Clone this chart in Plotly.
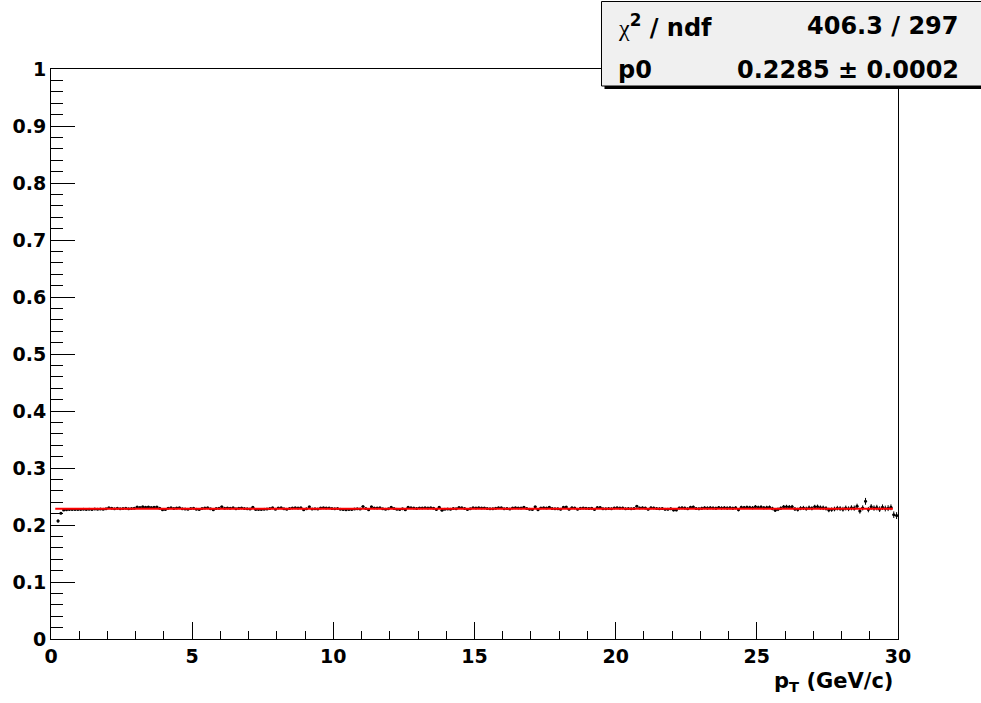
import plotly.graph_objects as go

# ---------------- data ----------------
bin_width = 0.1
bin_centers = [round(0.05 + 0.1 * i, 2) for i in range(300)]

ratio_values = [
    None, None, 0.2072, 0.2205, 0.2262, 0.2268, 0.2271, 0.2273, 0.2270, 0.2274,
    0.2272, 0.2275, 0.2273, 0.2277, 0.2274, 0.2279, 0.2276, 0.2281, 0.2278, 0.2283,
    0.2301, 0.2296, 0.2286, 0.2292, 0.2284, 0.2289, 0.2293, 0.2286, 0.2290, 0.2296,
    0.2314, 0.2309, 0.2318, 0.2311, 0.2316, 0.2308, 0.2313, 0.2317, 0.2294, 0.2267,
    0.2270, 0.2295, 0.2302, 0.2291, 0.2298, 0.2304, 0.2287, 0.2279, 0.2275, 0.2289,
    0.2293, 0.2276, 0.2272, 0.2288, 0.2297, 0.2302, 0.2285, 0.2268, 0.2289, 0.2294,
    0.2321, 0.2292, 0.2298, 0.2294, 0.2301, 0.2287, 0.2296, 0.2299, 0.2290, 0.2283,
    0.2279, 0.2310, 0.2274, 0.2271, 0.2273, 0.2276, 0.2280, 0.2289, 0.2302, 0.2276,
    0.2299, 0.2303, 0.2283, 0.2275, 0.2291, 0.2300, 0.2302, 0.2298, 0.2301, 0.2268,
    0.2287, 0.2318, 0.2281, 0.2285, 0.2279, 0.2298, 0.2301, 0.2297, 0.2300, 0.2288,
    0.2284, 0.2290, 0.2277, 0.2272, 0.2268, 0.2274, 0.2271, 0.2280, 0.2283, 0.2279,
    0.2324, 0.2288, 0.2268, 0.2321, 0.2300, 0.2297, 0.2301, 0.2284, 0.2278, 0.2287,
    0.2310, 0.2289, 0.2275, 0.2273, 0.2285, 0.2266, 0.2310, 0.2302, 0.2297, 0.2291,
    0.2300, 0.2299, 0.2303, 0.2298, 0.2301, 0.2296, 0.2274, 0.2312, 0.2258, 0.2277,
    0.2281, 0.2276, 0.2288, 0.2284, 0.2305, 0.2302, 0.2289, 0.2273, 0.2285, 0.2301,
    0.2298, 0.2302, 0.2297, 0.2300, 0.2289, 0.2283, 0.2287, 0.2292, 0.2303, 0.2301,
    0.2285, 0.2290, 0.2281, 0.2299, 0.2302, 0.2300, 0.2297, 0.2312, 0.2288, 0.2277,
    0.2274, 0.2318, 0.2268, 0.2299, 0.2301, 0.2297, 0.2311, 0.2289, 0.2284, 0.2287,
    0.2275, 0.2311, 0.2314, 0.2276, 0.2303, 0.2300, 0.2277, 0.2292, 0.2298, 0.2295,
    0.2290, 0.2296, 0.2274, 0.2306, 0.2308, 0.2286, 0.2283, 0.2289, 0.2285, 0.2299,
    0.2302, 0.2297, 0.2300, 0.2285, 0.2288, 0.2283, 0.2289, 0.2330, 0.2299, 0.2302,
    0.2298, 0.2277, 0.2301, 0.2300, 0.2288, 0.2285, 0.2290, 0.2275, 0.2278, 0.2286,
    0.2262, 0.2265, 0.2299, 0.2301, 0.2297, 0.2286, 0.2311, 0.2314, 0.2289, 0.2284,
    0.2295, 0.2302, 0.2298, 0.2304, 0.2300, 0.2296, 0.2306, 0.2299, 0.2303, 0.2297,
    0.2301, 0.2295, 0.2303, 0.2268, 0.2310, 0.2306, 0.2312, 0.2308, 0.2304, 0.2322,
    0.2309, 0.2314, 0.2303, 0.2307, 0.2311, 0.2289, 0.2260, 0.2275, 0.2296, 0.2318,
    0.2322, 0.2315, 0.2320, 0.2281, 0.2270, 0.2295, 0.2300, 0.2287, 0.2304, 0.2293,
    0.2318, 0.2320, 0.2306, 0.2301, 0.2292, 0.2264, 0.2270, 0.2281, 0.2296, 0.2289,
    0.2277, 0.2298, 0.2285, 0.2302, 0.2296, 0.2330, 0.2245, 0.2300, 0.2415, 0.2270,
    0.2318, 0.2297, 0.2305, 0.2278, 0.2312, 0.2289, 0.2296, 0.2310, 0.2181, 0.2165,
]

ratio_errors = [
    None, None, 0.0030, 0.0015, 0.0010, 0.0009, 0.0008, 0.0008, 0.0008, 0.0008,
    0.0008, 0.0008, 0.0008, 0.0008, 0.0008, 0.0008, 0.0008, 0.0008, 0.0008, 0.0008,
    0.0008, 0.0008, 0.0008, 0.0008, 0.0008, 0.0008, 0.0008, 0.0008, 0.0008, 0.0008,
    0.0008, 0.0008, 0.0008, 0.0008, 0.0008, 0.0008, 0.0008, 0.0008, 0.0008, 0.0008,
    0.0008, 0.0008, 0.0009, 0.0008, 0.0009, 0.0009, 0.0008, 0.0009, 0.0009, 0.0009,
    0.0009, 0.0009, 0.0009, 0.0009, 0.0009, 0.0010, 0.0009, 0.0010, 0.0010, 0.0010,
    0.0010, 0.0010, 0.0010, 0.0010, 0.0010, 0.0010, 0.0010, 0.0010, 0.0010, 0.0010,
    0.0010, 0.0011, 0.0010, 0.0011, 0.0011, 0.0011, 0.0011, 0.0011, 0.0011, 0.0011,
    0.0011, 0.0011, 0.0011, 0.0011, 0.0011, 0.0011, 0.0012, 0.0011, 0.0012, 0.0012,
    0.0012, 0.0012, 0.0012, 0.0012, 0.0012, 0.0012, 0.0012, 0.0012, 0.0012, 0.0012,
    0.0012, 0.0012, 0.0012, 0.0012, 0.0012, 0.0013, 0.0012, 0.0013, 0.0013, 0.0013,
    0.0013, 0.0013, 0.0013, 0.0013, 0.0013, 0.0013, 0.0013, 0.0013, 0.0013, 0.0013,
    0.0013, 0.0013, 0.0013, 0.0014, 0.0013, 0.0014, 0.0014, 0.0014, 0.0014, 0.0014,
    0.0014, 0.0014, 0.0014, 0.0014, 0.0014, 0.0014, 0.0014, 0.0014, 0.0015, 0.0014,
    0.0014, 0.0015, 0.0015, 0.0015, 0.0015, 0.0015, 0.0015, 0.0015, 0.0015, 0.0015,
    0.0015, 0.0015, 0.0015, 0.0015, 0.0016, 0.0015, 0.0016, 0.0016, 0.0016, 0.0016,
    0.0016, 0.0016, 0.0016, 0.0016, 0.0016, 0.0016, 0.0017, 0.0016, 0.0017, 0.0017,
    0.0017, 0.0017, 0.0017, 0.0017, 0.0017, 0.0017, 0.0017, 0.0018, 0.0017, 0.0018,
    0.0018, 0.0018, 0.0018, 0.0018, 0.0018, 0.0018, 0.0018, 0.0018, 0.0019, 0.0018,
    0.0019, 0.0019, 0.0019, 0.0019, 0.0019, 0.0019, 0.0019, 0.0020, 0.0019, 0.0020,
    0.0020, 0.0020, 0.0020, 0.0020, 0.0021, 0.0020, 0.0021, 0.0021, 0.0021, 0.0021,
    0.0021, 0.0021, 0.0022, 0.0021, 0.0022, 0.0022, 0.0022, 0.0022, 0.0022, 0.0023,
    0.0023, 0.0023, 0.0023, 0.0023, 0.0024, 0.0023, 0.0024, 0.0024, 0.0024, 0.0024,
    0.0025, 0.0024, 0.0025, 0.0025, 0.0025, 0.0026, 0.0025, 0.0026, 0.0026, 0.0026,
    0.0027, 0.0026, 0.0027, 0.0028, 0.0027, 0.0028, 0.0028, 0.0029, 0.0028, 0.0029,
    0.0030, 0.0029, 0.0030, 0.0031, 0.0030, 0.0031, 0.0032, 0.0031, 0.0032, 0.0033,
    0.0033, 0.0034, 0.0033, 0.0035, 0.0034, 0.0035, 0.0036, 0.0035, 0.0037, 0.0036,
    0.0037, 0.0038, 0.0037, 0.0039, 0.0038, 0.0040, 0.0039, 0.0041, 0.0040, 0.0042,
    0.0042, 0.0043, 0.0042, 0.0044, 0.0045, 0.0044, 0.0046, 0.0045, 0.0060, 0.0047,
    0.0048, 0.0047, 0.0049, 0.0050, 0.0049, 0.0051, 0.0052, 0.0051, 0.0058, 0.0060,
]

fit_p0 = 0.2285
fit_range = [0.15, 29.82]
chi2_text = "406.3 / 297"
p0_text = "0.2285 \u00b1 0.0002"

x_range = [0, 30]
y_range = [0, 1]
x_title = "p<sub>T</sub> (GeV/c)"

# ---------------- geometry helpers (pixels -> paper) ----------------
W, H = 981, 703
L, R, T, B = 51, 898, 69, 639


def px(X):
    return (X - L) / (R - L)


def py(Y):
    return (B - Y) / (B - T)


FONT = "DejaVu Sans"

fig = go.Figure()

fig.add_trace(go.Scatter(
    x=bin_centers, y=ratio_values,
    mode="markers",
    marker=dict(color="black", size=3),
    error_y=dict(type="data", array=ratio_errors, color="black", thickness=1, width=0),
    error_x=dict(type="constant", value=bin_width / 2, color="black", thickness=1, width=0),
    showlegend=False, hoverinfo="x+y",
))

fig.add_trace(go.Scatter(
    x=fit_range, y=[fit_p0, fit_p0],
    mode="lines", line=dict(color="#ff0000", width=2),
    showlegend=False,
))

axis_common = dict(
    showline=True, linecolor="black", linewidth=1, mirror=True,
    ticks="inside", tickcolor="black", tickwidth=1,
    showgrid=False, zeroline=False,
    tickfont=dict(family=FONT, size=19, color="black", weight="bold"),
)

fig.update_xaxes(
    range=x_range, dtick=5, tick0=0, ticklen=17,
    minor=dict(dtick=1, ticks="inside", ticklen=8.5, tickcolor="black", tickwidth=1, showgrid=False),
    **axis_common,
)
fig.update_yaxes(
    range=y_range, dtick=0.1, tick0=0, ticklen=24,
    minor=dict(dtick=0.02, ticks="inside", ticklen=12, tickcolor="black", tickwidth=1, showgrid=False),
    **axis_common,
)

# stats box: shadow then box
fig.add_shape(type="rect", xref="paper", yref="paper",
              x0=px(604.5), x1=px(990), y0=py(89), y1=py(4),
              fillcolor="black", line=dict(width=0), layer="above")
fig.add_shape(type="rect", xref="paper", yref="paper",
              x0=px(601.5), x1=px(985), y0=py(86), y1=py(1.5),
              fillcolor="#f0f0f0", line=dict(color="black", width=1), layer="above")

stat_font = dict(family=FONT, size=24, color="black", weight="bold")
chi_label = ("<span style=\"font-family:'Liberation Serif';font-weight:normal\">\u03c7</span>"
             "<sup>2</sup> / ndf")
fig.add_annotation(xref="paper", yref="paper", x=px(616), y=py(26),
                   text=chi_label, showarrow=False,
                   xanchor="left", yanchor="middle", font=stat_font)
fig.add_annotation(xref="paper", yref="paper", x=px(961), y=py(26),
                   text=chi2_text, showarrow=False,
                   xanchor="right", yanchor="middle", font=stat_font)
fig.add_annotation(xref="paper", yref="paper", x=px(616), y=py(70),
                   text="p0", showarrow=False,
                   xanchor="left", yanchor="middle", font=stat_font)
fig.add_annotation(xref="paper", yref="paper", x=px(961), y=py(70),
                   text=p0_text, showarrow=False,
                   xanchor="right", yanchor="middle", font=stat_font)

# x axis title at the right end
fig.add_annotation(xref="paper", yref="paper", x=px(895), y=py(682),
                   text=x_title, showarrow=False,
                   xanchor="right", yanchor="middle",
                   font=dict(family=FONT, size=21, color="black", weight="bold"))

fig.update_layout(
    width=W, height=H,
    margin=dict(l=L, r=W - R, t=T, b=H - B, pad=0),
    paper_bgcolor="white", plot_bgcolor="white",
    showlegend=False,
)

fig.write_html(
    "out.html",
    config={"displayModeBar": False},
    post_script="document.body.style.margin='0';document.body.style.overflow='hidden';",
)
